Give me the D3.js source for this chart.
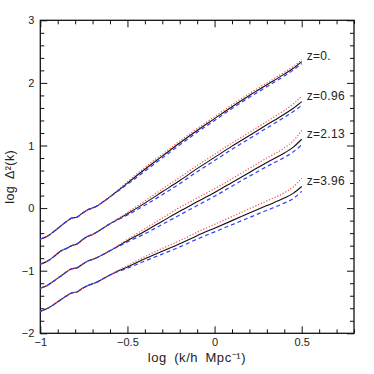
<!DOCTYPE html>
<html>
<head>
<meta charset="utf-8">
<script src="https://cdn.jsdelivr.net/npm/d3@7"></script>
<style>
  html, body { margin: 0; padding: 0; background: #fff; }
  svg { display: block; }
  text { font-family: "Liberation Sans", Arial, Helvetica, sans-serif; fill: #222; }
</style>
</head>
<body>
<svg id="chart" width="374" height="374"></svg>
<script>
// log k values (x grid)
const xs = [-1, -0.96, -0.92, -0.88, -0.85, -0.82, -0.79, -0.76, -0.73, -0.7, -0.67, -0.64, -0.6,
            -0.55, -0.5, -0.4, -0.3, -0.2, -0.1, 0, 0.1, 0.2, 0.3, 0.4, 0.45, 0.5];

// z = 0
const z0Black = [-0.495, -0.45, -0.37, -0.28, -0.215, -0.16, -0.145, -0.085, -0.03, 0.0, 0.04, 0.1, 0.18,
                 0.29, 0.4, 0.62, 0.83, 1.04, 1.24, 1.43, 1.62, 1.80, 1.97, 2.14, 2.23, 2.34];
const z0Red   = [-0.495, -0.45, -0.37, -0.28, -0.215, -0.16, -0.145, -0.085, -0.03, 0.0, 0.04, 0.1, 0.18,
                 0.30, 0.42, 0.65, 0.86, 1.07, 1.27, 1.46, 1.65, 1.83, 2.00, 2.17, 2.26, 2.37];
const z0Blue  = [-0.495, -0.45, -0.37, -0.28, -0.215, -0.16, -0.145, -0.085, -0.03, 0.0, 0.04, 0.1, 0.18,
                 0.28, 0.38, 0.59, 0.80, 1.01, 1.21, 1.40, 1.59, 1.77, 1.94, 2.11, 2.20, 2.31];

// z = 0.96
const z096Black = [-0.895, -0.85, -0.77, -0.68, -0.645, -0.60, -0.575, -0.51, -0.455, -0.42, -0.375, -0.32, -0.25,
                   -0.17, -0.09, 0.08, 0.26, 0.44, 0.63, 0.81, 0.99, 1.16, 1.33, 1.50, 1.59, 1.70];
const z096Red   = [-0.895, -0.85, -0.77, -0.68, -0.645, -0.60, -0.575, -0.51, -0.455, -0.42, -0.375, -0.32, -0.25,
                   -0.16, -0.07, 0.115, 0.305, 0.49, 0.68, 0.86, 1.04, 1.21, 1.385, 1.56, 1.66, 1.79];
const z096Blue  = [-0.895, -0.85, -0.77, -0.68, -0.645, -0.60, -0.575, -0.51, -0.455, -0.42, -0.375, -0.32, -0.25,
                   -0.18, -0.11, 0.045, 0.215, 0.39, 0.58, 0.76, 0.94, 1.11, 1.28, 1.45, 1.54, 1.64];

// z = 2.13
const z213Black = [-1.28, -1.235, -1.16, -1.08, -1.02, -0.97, -0.955, -0.9, -0.85, -0.82, -0.785, -0.74, -0.68,
                   -0.6, -0.52, -0.37, -0.21, -0.05, 0.1, 0.25, 0.41, 0.57, 0.73, 0.88, 0.97, 1.10];
const z213Red   = [-1.28, -1.235, -1.16, -1.08, -1.02, -0.97, -0.955, -0.9, -0.85, -0.82, -0.785, -0.74, -0.68,
                   -0.59, -0.50, -0.33, -0.16, 0.01, 0.16, 0.31, 0.47, 0.635, 0.80, 0.96, 1.07, 1.24];
const z213Blue  = [-1.28, -1.235, -1.16, -1.08, -1.02, -0.97, -0.955, -0.9, -0.85, -0.82, -0.785, -0.74, -0.68,
                   -0.61, -0.54, -0.41, -0.26, -0.11, 0.04, 0.19, 0.35, 0.51, 0.665, 0.81, 0.895, 1.01];

// z = 3.96
const z396Black = [-1.65, -1.605, -1.535, -1.46, -1.405, -1.355, -1.34, -1.285, -1.24, -1.21, -1.175, -1.13, -1.07,
                   -1.0, -0.94, -0.81, -0.69, -0.57, -0.44, -0.32, -0.2, -0.08, 0.04, 0.16, 0.235, 0.345];
const z396Red   = [-1.65, -1.605, -1.535, -1.46, -1.405, -1.355, -1.34, -1.285, -1.24, -1.21, -1.175, -1.13, -1.07,
                   -0.99, -0.92, -0.775, -0.645, -0.52, -0.385, -0.26, -0.135, -0.01, 0.115, 0.245, 0.335, 0.48];
const z396Blue  = [-1.65, -1.605, -1.535, -1.46, -1.405, -1.355, -1.34, -1.285, -1.24, -1.21, -1.175, -1.13, -1.07,
                   -1.01, -0.96, -0.845, -0.735, -0.62, -0.495, -0.38, -0.265, -0.15, -0.035, 0.08, 0.15, 0.27];

const zLabels = ["z=0.", "z=0.96", "z=2.13", "z=3.96"];

const xMajorTicks = [-1, -0.5, 0, 0.5];
const xTickLabels = ["\u22121", "\u22120.5", "0", "0.5"];
const yMajorTicks = [-2, -1, 0, 1, 2, 3];
const yTickLabels = ["\u22122", "\u22121", "0", "1", "2", "3"];

const series = [
  { label: zLabels[0], black: z0Black, red: z0Red, blue: z0Blue },
  { label: zLabels[1], black: z096Black, red: z096Red, blue: z096Blue },
  { label: zLabels[2], black: z213Black, red: z213Red, blue: z213Blue },
  { label: zLabels[3], black: z396Black, red: z396Red, blue: z396Blue }
];

const svg = d3.select("#chart");
const L = 40.3, R = 354, T = 20.3, B = 333.3;

const x = d3.scaleLinear().domain([-1, 0.8]).range([L, R]);
const y = d3.scaleLinear().domain([-2, 3]).range([B, T]);

const xMinor = d3.range(-10, 9).map(v => v / 10).filter(v => !xMajorTicks.some(m => Math.abs(m - v) < 1e-9));
const yMinor = d3.range(-10, 16).map(v => v / 5).filter(v => !yMajorTicks.some(m => Math.abs(m - v) < 1e-9));

const MAJ = 7, MIN = 4;
function styleAxis(g) {
  g.select(".domain").remove();
  g.selectAll("line").attr("stroke", "#111").attr("stroke-width", 1);
  g.selectAll("text").attr("font-size", 11).attr("fill", "#222")
    .attr("font-family", '"Liberation Sans", Arial, sans-serif');
}

// bottom
svg.append("g").attr("transform", `translate(0,${B})`)
  .call(d3.axisBottom(x).tickValues(xMajorTicks).tickSizeInner(-MAJ).tickSizeOuter(0).tickPadding(5)
    .tickFormat((d, i) => xTickLabels[i])).call(styleAxis);
svg.append("g").attr("transform", `translate(0,${B})`)
  .call(d3.axisBottom(x).tickValues(xMinor).tickSizeInner(-MIN).tickSizeOuter(0).tickFormat("")).call(styleAxis);
// top
svg.append("g").attr("transform", `translate(0,${T})`)
  .call(d3.axisTop(x).tickValues(xMajorTicks).tickSizeInner(-MAJ).tickSizeOuter(0).tickFormat("")).call(styleAxis);
svg.append("g").attr("transform", `translate(0,${T})`)
  .call(d3.axisTop(x).tickValues(xMinor).tickSizeInner(-MIN).tickSizeOuter(0).tickFormat("")).call(styleAxis);
// left
svg.append("g").attr("transform", `translate(${L},0)`)
  .call(d3.axisLeft(y).tickValues(yMajorTicks).tickSizeInner(-MAJ).tickSizeOuter(0).tickPadding(6)
    .tickFormat((d, i) => yTickLabels[i])).call(styleAxis);
svg.append("g").attr("transform", `translate(${L},0)`)
  .call(d3.axisLeft(y).tickValues(yMinor).tickSizeInner(-MIN).tickSizeOuter(0).tickFormat("")).call(styleAxis);
// right
svg.append("g").attr("transform", `translate(${R},0)`)
  .call(d3.axisRight(y).tickValues(yMajorTicks).tickSizeInner(-MAJ).tickSizeOuter(0).tickFormat("")).call(styleAxis);
svg.append("g").attr("transform", `translate(${R},0)`)
  .call(d3.axisRight(y).tickValues(yMinor).tickSizeInner(-MIN).tickSizeOuter(0).tickFormat("")).call(styleAxis);

// frame
svg.append("rect").attr("x", L).attr("y", T).attr("width", R - L).attr("height", B - T)
  .attr("fill", "none").attr("stroke", "#111").attr("stroke-width", 1.3);

const line = d3.line().x((d, i) => x(xs[i])).y(d => y(d)).curve(d3.curveMonotoneX);

const curves = svg.append("g");
series.forEach(s => {
  curves.append("path").attr("d", line(s.black)).attr("fill", "none")
    .attr("stroke", "#111").attr("stroke-width", 1.1);
  curves.append("path").attr("d", line(s.red)).attr("fill", "none")
    .attr("stroke", "#ff4a4a").attr("stroke-width", 1.2).attr("stroke-dasharray", "1.2,1.8");
  curves.append("path").attr("d", line(s.blue)).attr("fill", "none")
    .attr("stroke", "#2f3cff").attr("stroke-width", 1.2).attr("stroke-dasharray", "4,3");
  const last = s.black.length - 1;
  svg.append("text").attr("x", x(xs[last]) + 5).attr("y", y(s.black[last] + 0.07))
    .attr("dominant-baseline", "middle").attr("font-size", 12).attr("letter-spacing", 0.3).text(s.label);
});

// axis titles
svg.append("text").attr("x", 197).attr("y", 362).attr("text-anchor", "middle")
  .attr("font-size", 13).attr("letter-spacing", 0.6).attr("word-spacing", 3)
  .text("log (k/h Mpc\u207B\u00B9)");
svg.append("text").attr("transform", `translate(14,${(T + B) / 2}) rotate(-90)`)
  .attr("text-anchor", "middle").attr("font-size", 12.5).attr("letter-spacing", 0.4).attr("word-spacing", 3)
  .text("log \u0394\u00B2(k)");
</script>
</body>
</html>
